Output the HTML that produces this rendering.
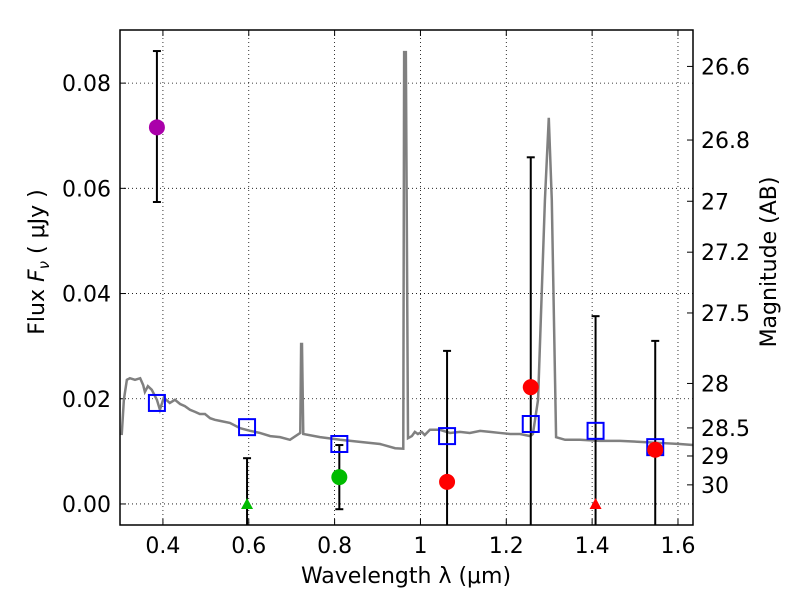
<!DOCTYPE html>
<html><head><meta charset="utf-8"><style>
body{margin:0;background:#fff}
svg text{font-family:"DejaVu Sans","Liberation Sans",sans-serif;font-size:22px;fill:#000}
</style></head><body>
<svg id="c" width="800" height="600" xmlns="http://www.w3.org/2000/svg"></svg>
<script>
const specLam=[0.304,0.309,0.316,0.323,0.335,0.347,0.354,0.358,0.365,0.374,0.386,0.393,0.402,0.416,0.428,0.440,0.451,0.463,0.475,0.486,0.498,0.510,0.521,0.533,0.556,0.580,0.603,0.626,0.650,0.673,0.696,0.720,0.722,0.724,0.727,0.766,0.813,0.859,0.906,0.941,0.960,0.962,0.966,0.971,0.980,0.987,0.994,1.003,1.010,1.022,1.045,1.069,1.092,1.115,1.139,1.162,1.185,1.209,1.232,1.256,1.262,1.274,1.290,1.299,1.306,1.316,1.337,1.372,1.418,1.465,1.511,1.558,1.604,1.635];
const specFlux=[0.0131,0.0198,0.0236,0.0239,0.0236,0.0239,0.0226,0.0213,0.0224,0.0217,0.0198,0.0179,0.0202,0.0192,0.0198,0.0190,0.0186,0.0179,0.0175,0.0171,0.0171,0.0163,0.0160,0.0158,0.0154,0.0144,0.0139,0.0135,0.0129,0.0127,0.0122,0.0135,0.0304,0.0304,0.0133,0.0127,0.0122,0.0118,0.0114,0.0106,0.0105,0.0859,0.0859,0.0125,0.0129,0.0137,0.0133,0.0137,0.0131,0.0141,0.0141,0.0135,0.0137,0.0135,0.0139,0.0137,0.0135,0.0133,0.0133,0.0129,0.0133,0.0198,0.0578,0.0734,0.0578,0.0127,0.0122,0.0122,0.0120,0.0120,0.0118,0.0116,0.0114,0.0112];
const ptLam=[0.386,0.596,0.811,1.062,1.257,1.408,1.547];
const ptFlux=[0.0716,0.0,0.0051,0.0042,0.0222,0.0,0.0103];
const ptHi=[0.0861,0.0087,0.0112,0.0291,0.0659,0.0357,0.031];
const ptLo=[0.0574,-0.01,-0.001,-0.01,-0.01,-0.01,-0.01];
const ptColor=['#aa00aa','#00bb00','#00bb00','#ff0000','#ff0000','#ff0000','#ff0000'];
const ptShape=['c','t','c','c','c','t','c'];
const modFlux=[0.0192,0.0146,0.0114,0.0129,0.0152,0.0139,0.0108];
const xTicks=[0.4,0.6,0.8,1.0,1.2,1.4,1.6];
const xLabels=['0.4','0.6','0.8','1','1.2','1.4','1.6'];
const yTicks=[0,0.02,0.04,0.06,0.08];
const yLabels=['0.00','0.02','0.04','0.06','0.08'];
const magTicks=[26.6,26.8,27,27.2,27.5,28,28.5,29,30];
const magLabels=['26.6','26.8','27','27.2','27.5','28','28.5','29','30'];

const L=120,R=693,T=30,B=525,xmin=0.3,xmax=1.635,ymin=-0.004,ymax=0.0901;
const X=v=>L+(v-xmin)/(xmax-xmin)*(R-L);
const Y=v=>B-(v-ymin)/(ymax-ymin)*(B-T);
const svg=document.getElementById('c');const NS='http://www.w3.org/2000/svg';
function mk(t,a,p){const e=document.createElementNS(NS,t);for(const k in a)e.setAttribute(k,a[k]);(p||svg).appendChild(e);return e;}
const defs=mk('defs',{});const cp=mk('clipPath',{id:'cp'},defs);mk('rect',{x:L,y:T,width:R-L,height:B-T},cp);
xTicks.forEach((t,i)=>{
 const g=mk('line',{x1:X(t),x2:X(t),y1:T,y2:B,stroke:'#000','stroke-width':0.8,'stroke-dasharray':'1,3'});
 
 mk('line',{x1:X(t),x2:X(t),y1:B,y2:B-6,stroke:'#000'});mk('line',{x1:X(t),x2:X(t),y1:T,y2:T+6,stroke:'#000'});
 const tx=mk('text',{x:X(t),y:B+28,'text-anchor':'middle'});tx.textContent=xLabels[i];
 
});
yTicks.forEach((t,i)=>{
 const g=mk('line',{x1:L,x2:R,y1:Y(t),y2:Y(t),stroke:'#000','stroke-width':0.8,'stroke-dasharray':'1,3'});
 
 mk('line',{x1:L,x2:L+6,y1:Y(t),y2:Y(t),stroke:'#000'});
 const tx=mk('text',{x:L-9,y:Y(t)+8,'text-anchor':'end'});tx.textContent=yLabels[i];
 
});
magTicks.forEach((m,i)=>{
 const f=Math.pow(10,(23.9-m)/2.5);const y=Y(f);
 mk('line',{x1:R,x2:R-6,y1:y,y2:y,stroke:'#000'});
 const tx=mk('text',{x:R+8,y:y+8});tx.textContent=magLabels[i];
 
});
const sp=mk('polyline',{points:specLam.map((l,i)=>X(l)+','+Y(specFlux[i])).join(' '),fill:'none',stroke:'#808080','stroke-width':2.5,'clip-path':'url(#cp)'});

ptLam.forEach((l,i)=>{
 const x=X(l),lo=Math.max(ptLo[i],ymin);
 const e=mk('line',{x1:x,x2:x,y1:Y(ptHi[i]),y2:Y(lo),stroke:'#000','stroke-width':2,'clip-path':'url(#cp)'});
 
 mk('line',{x1:x-4,x2:x+4,y1:Y(ptHi[i]),y2:Y(ptHi[i]),stroke:'#000','stroke-width':2});
 if(ptLo[i]>ymin) mk('line',{x1:x-4,x2:x+4,y1:Y(lo),y2:Y(lo),stroke:'#000','stroke-width':2});
});
ptLam.forEach((l,i)=>{
 const x=X(l);
 const s=mk('rect',{x:x-8,y:Y(modFlux[i])-8,width:16,height:16,fill:'none',stroke:'#0000ff','stroke-width':2});
 
});
ptLam.forEach((l,i)=>{
 const x=X(l),y=Y(ptFlux[i]);let p;
 if(ptShape[i]==='c')p=mk('circle',{cx:x,cy:y,r:8,fill:ptColor[i]});
 else p=mk('polygon',{points:`${x-6},${y+5} ${x+6},${y+5} ${x},${y-6}`,fill:ptColor[i],'clip-path':'url(#cp)'});
 
});
const fr=mk('rect',{x:L,y:T,width:R-L,height:B-T,fill:'none',stroke:'#000','stroke-width':1.5});

const xt=mk('text',{x:406,y:583,'text-anchor':'middle'});xt.textContent='Wavelength  λ (μm)';

const yt=mk('text',{x:0,y:0,'text-anchor':'middle',transform:'translate(44,262) rotate(-90)'});yt.innerHTML='Flux  <tspan font-style="italic">F</tspan><tspan font-style="italic" font-size="15" dy="5">ν</tspan><tspan dy="-5">  ( μJy )</tspan>';

const mt=mk('text',{x:0,y:0,'text-anchor':'middle',transform:'translate(776,262) rotate(-90)'});mt.textContent='Magnitude (AB)';

</script>
</body></html>
